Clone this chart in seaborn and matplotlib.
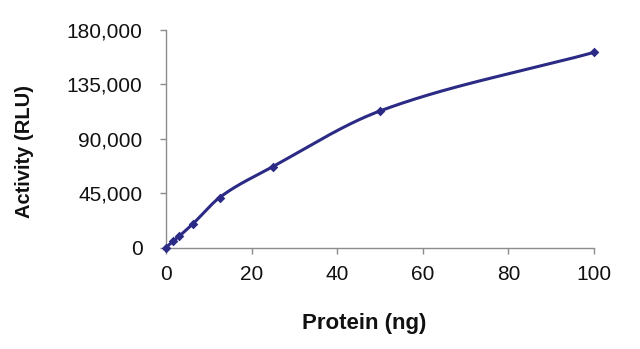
import numpy as np
import pandas as pd
import matplotlib
matplotlib.use("Agg")
import matplotlib.pyplot as plt
from matplotlib.ticker import FuncFormatter
import seaborn as sns

# Protein titration: luminescence readout
protein_ng = [0, 1.5625, 3.125, 6.25, 12.5, 25, 50, 100]
activity_rlu = [0, 5000, 9500, 19500, 41300, 67000, 113000, 161500]
x_ticks = [0, 20, 40, 60, 80, 100]
y_ticks = [0, 45000, 90000, 135000, 180000]


def smooth_curve(x, y, n=80):
    """Shape-preserving (PCHIP-style) cubic through the points, secant slopes at the ends."""
    x = np.asarray(x, float)
    y = np.asarray(y, float)
    h = np.diff(x)
    delta = np.diff(y) / h
    d = np.zeros_like(y)
    for k in range(1, len(x) - 1):
        if delta[k - 1] * delta[k] > 0:
            w1 = 2 * h[k] + h[k - 1]
            w2 = h[k] + 2 * h[k - 1]
            d[k] = (w1 + w2) / (w1 / delta[k - 1] + w2 / delta[k])
    d[0] = delta[0]
    d[-1] = delta[-1]
    xs, ys = [], []
    t = np.linspace(0, 1, n)
    for k in range(len(x) - 1):
        h00 = 2 * t**3 - 3 * t**2 + 1
        h10 = t**3 - 2 * t**2 + t
        h01 = -2 * t**3 + 3 * t**2
        h11 = t**3 - t**2
        xs.append(x[k] + t * h[k])
        ys.append(h00 * y[k] + h10 * h[k] * d[k] + h01 * y[k + 1] + h11 * h[k] * d[k + 1])
    return np.concatenate(xs), np.concatenate(ys)


sns.set_style("white")
plt.rcParams["font.family"] = ["Liberation Sans", "DejaVu Sans"]

line_color = "#2B2A85"
axis_color = "#8C8C8C"
text_color = "#111111"

fig = plt.figure(figsize=(6.4, 3.49), dpi=100)
ax = fig.add_axes([166 / 640, 1 - 247.5 / 349, 428 / 640, 217.5 / 349])

cx, cy = smooth_curve(protein_ng, activity_rlu)
curve = pd.DataFrame({"x": cx, "y": cy})
points = pd.DataFrame({"x": protein_ng, "y": activity_rlu})

sns.lineplot(data=curve, x="x", y="y", ax=ax, color=line_color, linewidth=2.2,
             sort=False, estimator=None, zorder=2)
sns.scatterplot(data=points, x="x", y="y", ax=ax, color=line_color, marker="D",
                s=24, edgecolor=line_color, linewidth=0, zorder=3, clip_on=False)

ax.set_xlim(0, 100)
ax.set_ylim(0, 180000)
ax.set_xticks(x_ticks)
ax.set_yticks(y_ticks)
ax.yaxis.set_major_formatter(FuncFormatter(lambda v, _: f"{int(v):,}"))

for side in ("top", "right"):
    ax.spines[side].set_visible(False)
for side in ("left", "bottom"):
    ax.spines[side].set_color(axis_color)
    ax.spines[side].set_linewidth(1.0)

ax.tick_params(axis="both", which="major", direction="out", length=4.5, width=1,
               color=axis_color, labelsize=15, labelcolor=text_color,
               left=True, bottom=True)
ax.tick_params(axis="y", pad=12.5)
ax.tick_params(axis="x", pad=8)

ax.set_xlabel("")
ax.set_ylabel("")
fig.text(364 / 640, 1 - 324 / 349, "Protein (ng)", fontsize=16, fontweight="bold",
         color=text_color, ha="center", va="center")
fig.text(25 / 640, 1 - 151 / 349, "Activity (RLU)", fontsize=14.5, fontweight="bold",
         color=text_color, ha="center", va="center", rotation=90)

fig.savefig("out.png", dpi=100, facecolor="white")
